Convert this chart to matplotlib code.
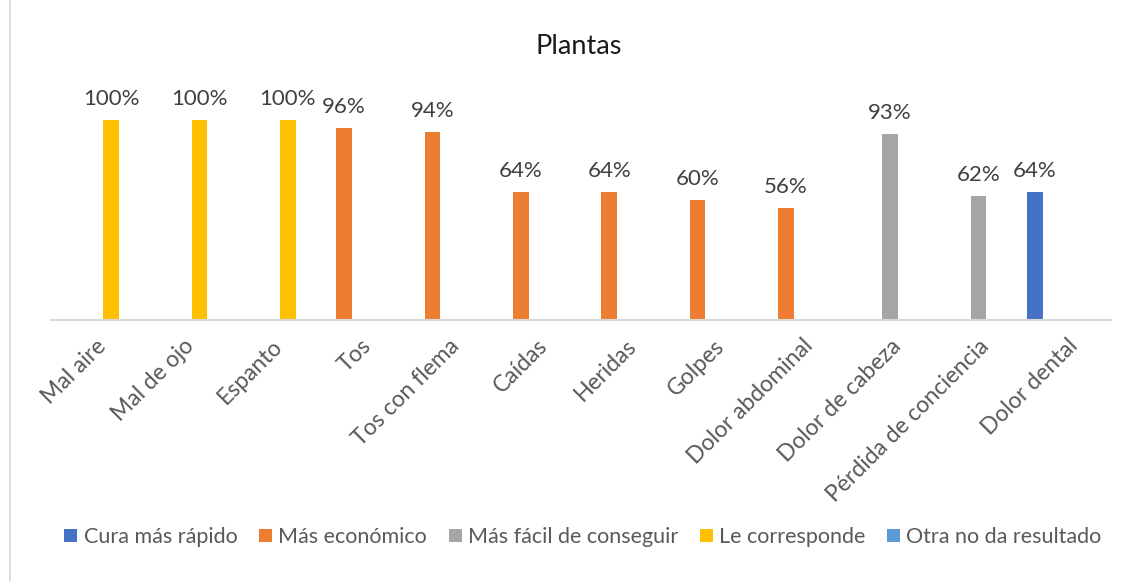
import numpy as np
import matplotlib.pyplot as plt
from matplotlib.patches import Patch, Rectangle

plt.rcParams['font.family'] = ['Lato', 'DejaVu Sans']

categorias = ["Mal aire", "Mal de ojo", "Espanto", "Tos", "Tos con flema", "Caídas",
              "Heridas", "Golpes", "Dolor abdominal", "Dolor de cabeza",
              "Pérdida de conciencia", "Dolor dental"]
series = ["Cura más rápido", "Más económico", "Más fácil de conseguir",
          "Le corresponde", "Otra no da resultado"]

nan = np.nan
cura_rapido = [nan, nan, nan, nan, nan, nan, nan, nan, nan, nan, nan, 0.64]
mas_economico = [nan, nan, nan, 0.96, 0.94, 0.64, 0.64, 0.60, 0.56, nan, nan, nan]
mas_facil = [nan, nan, nan, nan, nan, nan, nan, nan, nan, 0.93, 0.62, nan]
le_corresponde = [1.0, 1.0, 1.0, nan, nan, nan, nan, nan, nan, nan, nan, nan]
otra_no = [nan] * 12

valores = [cura_rapido, mas_economico, mas_facil, le_corresponde, otra_no]
colores = ["#4472C4", "#ED7D31", "#A5A5A5", "#FFC000", "#5B9BD5"]

fig = plt.figure(figsize=(11.25, 5.81), dpi=100)
ax = fig.add_axes([51 / 1125, 261 / 581, 1060 / 1125, 240 / 581])

# borde gris del grafico
fig.patches.append(Rectangle((10 / 1125, -0.2), 1.2, 1.2 + 1 - 12 / 581,
                             transform=fig.transFigure, fill=False,
                             edgecolor="#D9D9D9", linewidth=1.3))

x = np.arange(len(categorias))
w = 0.181
for k, (vals, col) in enumerate(zip(valores, colores)):
    vals = np.array(vals, dtype=float)
    pos = x + (k - 2) * w
    ok = ~np.isnan(vals)
    ax.bar(pos[ok], vals[ok], width=w * 0.97, color=col, zorder=2)
    for xi, v in zip(pos[ok], vals[ok]):
        ax.annotate(f"{v:.0%}", (xi, v), xytext=(0, 8), textcoords="offset points",
                    ha="center", va="bottom", fontsize=16, color="#404040")

ax.set_xlim(-0.5, 11.5)
ax.set_ylim(0, 1.2)
ax.set_yticks([])
ax.set_xticks(x)
ax.set_xticklabels(categorias, rotation=45, ha="right", rotation_mode="anchor",
                   fontsize=16.5, color="#595959")
ax.tick_params(axis="x", length=0, pad=11)
for s in ["top", "left", "right"]:
    ax.spines[s].set_visible(False)
ax.spines["bottom"].set_color("#D9D9D9")
ax.spines["bottom"].set_linewidth(1.5)

fig.text(579 / 1125, 1 - 46 / 581, "Plantas", ha="center", va="center",
         fontsize=19.5, color="#1a1a1a")

handles = [Patch(facecolor=c) for c in colores]
fig.legend(handles, series, loc="center", bbox_to_anchor=(583 / 1125, 1 - 537 / 581),
           ncol=5, frameon=False, fontsize=15.5, handlelength=0.6, handleheight=0.6,
           handletextpad=0.3, columnspacing=1.0, labelcolor="#595959")

fig.savefig("out.png", dpi=100)
